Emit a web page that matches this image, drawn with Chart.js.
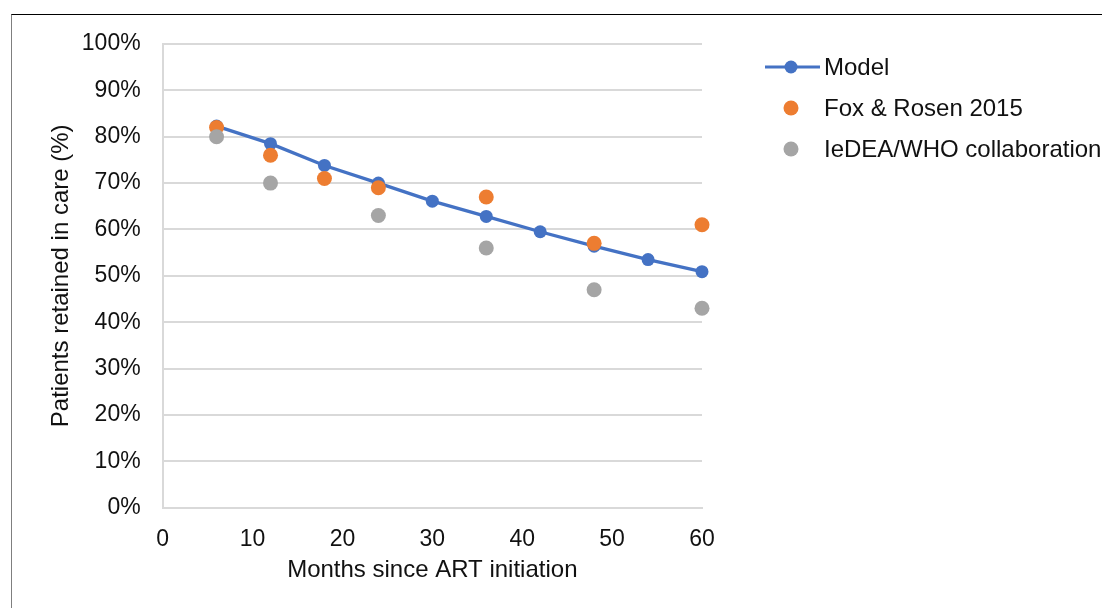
<!DOCTYPE html>
<html>
<head>
<meta charset="utf-8">
<script src="https://cdn.jsdelivr.net/npm/chart.js@4.4.1/dist/chart.umd.min.js"></script>
<style>
  body { margin: 0; background: #fff; }
  #wrap { position: relative; width: 1103px; height: 608px; }
  #frame {
    position: absolute; left: 11px; top: 14px; right: 1px; bottom: 0;
    border-top: 1px solid #000; border-left: 1px solid #7f7f7f;
    pointer-events: none;
  }
  canvas { position: absolute; left: 0; top: 0; }
</style>
</head>
<body>
<div id="wrap">
  <canvas id="myChart" width="1103" height="608"></canvas>
  <div id="frame"></div>
</div>
<script>
// model run, every 6 months
const model_months = [6, 12, 18, 24, 30, 36, 42, 48, 54, 60];
const model_pct = [82.3, 78.5, 73.8, 70.0, 66.1, 62.8, 59.5, 56.4, 53.5, 50.9];

// observed retention
const fox_months = [6, 12, 18, 24, 36, 48, 60];
const fox_pct = [82, 76, 71, 69, 67, 57, 61];

const iedea_months = [6, 12, 24, 36, 48, 60];
const iedea_pct = [80, 70, 63, 56, 47, 43];

const series_names = ["Model", "Fox & Rosen 2015", "IeDEA/WHO collaboration"];
const x_ticks = [0, 10, 20, 30, 40, 50, 60];
const y_ticks = [0, 10, 20, 30, 40, 50, 60, 70, 80, 90, 100];

const FONT = 'Arial, "Liberation Sans", sans-serif';

let to_points = (xs, ys) => xs.map((x, i) => ({ x: x, y: ys[i] }));

// legend drawn by hand so it sits where the original one is
const side_legend = {
  id: "side_legend",
  afterDraw(chart) {
    const ctx = chart.ctx;
    const left = chart.chartArea.right + 63;
    const rows = [67, 108, 149];
    ctx.save();
    ctx.font = "24px " + FONT;
    ctx.textBaseline = "middle";
    chart.data.datasets.forEach((ds, i) => {
      const y = rows[i];
      if (ds.showLine) {
        ctx.strokeStyle = ds.borderColor;
        ctx.lineWidth = 3;
        ctx.beginPath();
        ctx.moveTo(left, y);
        ctx.lineTo(left + 55, y);
        ctx.stroke();
      }
      ctx.fillStyle = ds.pointBackgroundColor;
      ctx.beginPath();
      ctx.arc(left + 26, y, ds.showLine ? 6.5 : 7.5, 0, Math.PI * 2);
      ctx.fill();
      ctx.fillStyle = "#111";
      ctx.fillText(series_names[i], left + 59, y + 1);
    });
    ctx.restore();
  },
};

const ctx = document.getElementById("myChart").getContext("2d");

const tick_font = { family: FONT, size: 23 };
const title_font = { family: FONT, size: 24 };

const myChart = new Chart(ctx, {
  type: "scatter",
  data: {
    datasets: [
      {
        label: series_names[0],
        data: to_points(model_months, model_pct),
        showLine: true,
        borderColor: "#4472C4",
        borderWidth: 3.3,
        pointBackgroundColor: "#4472C4",
        pointBorderWidth: 0,
        pointRadius: 6.5,
        clip: false,
        order: 3,
      },
      {
        label: series_names[1],
        data: to_points(fox_months, fox_pct),
        pointBackgroundColor: "#ED7D31",
        backgroundColor: "#ED7D31",
        pointBorderWidth: 0,
        pointRadius: 7.5,
        clip: false,
        order: 2,
      },
      {
        label: series_names[2],
        data: to_points(iedea_months, iedea_pct),
        pointBackgroundColor: "#A5A5A5",
        backgroundColor: "#A5A5A5",
        pointBorderWidth: 0,
        pointRadius: 7.5,
        clip: false,
        order: 1,
      },
    ],
  },
  options: {
    responsive: false,
    animation: false,
    layout: { padding: { top: 44, right: 401, bottom: 23, left: 47 } },
    plugins: { legend: { display: false }, tooltip: { enabled: false } },
    scales: {
      x: {
        type: "linear",
        min: 0,
        max: 60,
        afterBuildTicks: (axis) => {
          axis.ticks = x_ticks.map((v) => ({ value: v }));
        },
        grid: { display: false, drawTicks: false },
        border: { display: true, color: "#d9d9d9", width: 2 },
        ticks: { color: "#111", font: tick_font, padding: 18, maxRotation: 0 },
        title: {
          display: true,
          text: "Months since ART initiation",
          color: "#111",
          font: title_font,
          padding: { top: -15, bottom: 0 },
        },
      },
      y: {
        min: 0,
        max: 100,
        afterBuildTicks: (axis) => {
          axis.ticks = y_ticks.map((v) => ({ value: v }));
        },
        grid: { color: "#d9d9d9", lineWidth: 2, drawTicks: false },
        border: { display: true, color: "#d9d9d9", width: 2 },
        ticks: {
          color: "#111",
          font: tick_font,
          padding: 22,
          callback: (v) => v + "%",
        },
        title: {
          display: true,
          text: "Patients retained in care (%)",
          color: "#111",
          font: title_font,
          padding: { top: 0, bottom: -16 },
        },
      },
    },
  },
  plugins: [side_legend],
});
</script>
</body>
</html>
